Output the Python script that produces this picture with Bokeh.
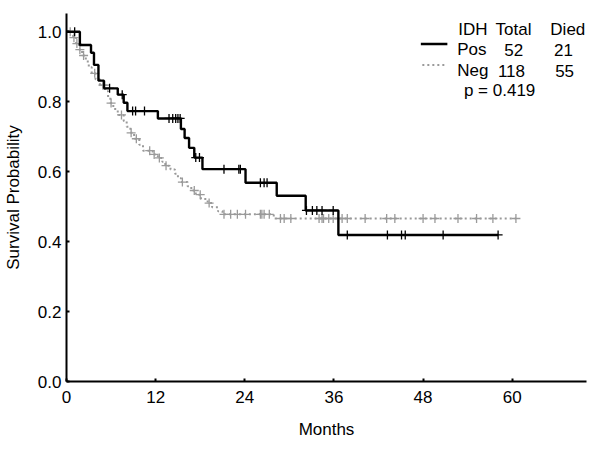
import numpy as np
from bokeh.plotting import figure
from bokeh.models import FixedTicker, NumeralTickFormatter
from bokeh.core.properties import value
from bokeh.embed import file_html
from bokeh.resources import INLINE

# ---- data ----
# IDH positive: event times (months) and survival after each step
pos_times = [1.8, 3.3, 3.7, 4.3, 5.05, 6.9, 7.7, 8.2, 12.3, 15.4, 15.9, 16.5, 17.2, 18.3, 24.1, 28.3, 32.2, 36.6]
pos_surv = [0.962, 0.940, 0.905, 0.860, 0.838, 0.820, 0.797, 0.773, 0.752, 0.722, 0.696, 0.668, 0.640, 0.607, 0.568, 0.531, 0.489, 0.419]
pos_censor = [1.1, 5.8, 7.5, 8.9, 9.3, 10.5, 13.8, 14.3, 14.7, 15.0, 15.3, 17.4, 17.9, 21.2, 23.2, 23.4,
              26.1, 26.6, 27.0, 32.3, 33.1, 33.7, 34.4, 35.9, 37.8, 43.2, 45.1, 45.6, 50.7, 58.1]
pos_end = 58.1

# IDH negative
neg_times = [0.9, 1.3, 1.7, 2.1, 2.6, 3.0, 3.4, 3.9, 4.5, 5.2, 5.6, 5.9, 6.3, 6.9, 7.7, 8.1, 8.6, 9.1, 9.8, 10.3,
             11.6, 12.3, 12.9, 13.3, 14.0, 14.6, 15.0, 15.4, 16.3, 16.8, 17.4, 18.1, 19.0, 19.6, 20.4, 21.0, 27.9]
neg_surv = [0.983, 0.966, 0.949, 0.932, 0.915, 0.898, 0.881, 0.864, 0.847, 0.830, 0.813, 0.796, 0.779, 0.762,
            0.745, 0.728, 0.711, 0.694, 0.677, 0.660, 0.649, 0.639, 0.628, 0.617, 0.606, 0.594, 0.582, 0.570,
            0.558, 0.546, 0.534, 0.522, 0.510, 0.498, 0.487, 0.478, 0.466]
neg_censor = [0.5, 1.0, 1.4, 1.8, 2.3, 3.8, 4.9, 5.1, 6.0, 7.4, 8.7, 9.4, 11.2, 11.8, 12.5, 13.4, 15.6, 17.2,
              18.0, 19.2, 21.2, 22.1, 23.0, 24.1, 26.1, 26.3, 26.6, 27.3, 28.8, 29.3, 30.2, 34.0, 34.4, 34.6,
              35.3, 35.9, 36.6, 37.1, 37.8, 40.2, 43.1, 44.2, 48.0, 49.6, 52.7, 55.2, 57.4, 60.5]
neg_end = 60.5

x_ticks = [0, 12, 24, 36, 48, 60]
y_ticks = [0.0, 0.2, 0.4, 0.6, 0.8, 1.0]

legend_header = ["IDH", "Total", "Died"]
groups = ["Pos", "Neg"]
totals = ["52", "118"]
died = ["21", "55"]
p_text = "p = 0.419"

FONT = "Liberation Sans"
BLACK = "#000000"
GREY = "#9a9a9a"


def step_xy(times, surv, end):
    xs = [0.0] + list(times) + [end]
    ys = [1.0] + list(surv) + [surv[-1]]
    return xs, ys


def censor_y(times, surv, ctimes):
    t = np.array(times)
    s = np.array([1.0] + list(surv))
    idx = np.searchsorted(t, np.array(ctimes), side="right")
    return list(s[idx])


p = figure(width=592, height=441, x_range=(0, 70), y_range=(0, 1.052),
           output_backend="svg", toolbar_location=None,
           min_border_left=64, min_border_right=6, min_border_top=13, min_border_bottom=58)
p.outline_line_color = None
p.grid.visible = False
p.background_fill_color = "white"

# curves
nx, ny = step_xy(neg_times, neg_surv, neg_end)
p.step(nx, ny, mode="after", line_color=GREY, line_width=2, line_dash="2 3")
p.scatter(neg_censor, censor_y(neg_times, neg_surv, neg_censor), marker="cross",
          size=9, line_color=GREY, line_width=1.3)

px_, py_ = step_xy(pos_times, pos_surv, pos_end)
p.step(px_, py_, mode="after", line_color=BLACK, line_width=2.4)
p.scatter(pos_censor, censor_y(pos_times, pos_surv, pos_censor), marker="cross",
          size=9, line_color=BLACK, line_width=1.3)

# legend table
fs = "17px"
hdr_x = [52.74, 57.76, 65.13]
p.text(x=hdr_x, y=[1.005] * 3, text=legend_header, text_font=value(FONT), text_font_size=fs,
       text_color="black", text_baseline="alphabetic", text_align="left")
row_y = [0.948, 0.889]
p.text(x=[52.6, 52.6], y=row_y, text=groups, text_font=value(FONT), text_font_size=fs,
       text_color="black", text_baseline="alphabetic", text_align="left")
p.text(x=[60.2, 59.9], y=row_y, text=totals, text_font=value(FONT), text_font_size=fs,
       text_color="black", text_baseline="alphabetic", text_align="center")
p.text(x=[66.9, 67.05], y=row_y, text=died, text_font=value(FONT), text_font_size=fs,
       text_color="black", text_baseline="alphabetic", text_align="center")
p.text(x=[53.5], y=[0.832], text=[p_text], text_font=value(FONT), text_font_size=fs,
       text_color="black", text_baseline="alphabetic", text_align="left")
p.segment(x0=[47.7], y0=[0.965], x1=[51.27], y1=[0.965], line_color=BLACK, line_width=2.4)
p.segment(x0=[47.9], y0=[0.905], x1=[51.2], y1=[0.905], line_color=GREY, line_width=2, line_dash="2 3")

# axes
for ax in (p.xaxis[0], p.yaxis[0]):
    ax.axis_line_color = "black"
    ax.axis_line_width = 2
    ax.major_tick_in = 3
    ax.major_tick_out = 0
    ax.major_tick_line_width = 2
    ax.minor_tick_line_color = None
    ax.major_label_text_font = FONT
    ax.major_label_text_font_size = "17px"
    ax.major_label_text_color = "black"
    ax.axis_label_text_font = FONT
    ax.axis_label_text_font_size = "17px"
    ax.axis_label_text_font_style = "normal"
    ax.axis_label_text_color = "black"

p.xaxis.ticker = FixedTicker(ticks=x_ticks)
p.yaxis.ticker = FixedTicker(ticks=y_ticks)
p.yaxis.formatter = NumeralTickFormatter(format="0.0")
p.xaxis.axis_label = "Months"
p.yaxis.axis_label = "Survival Probability"
p.xaxis.major_label_standoff = 9
p.yaxis.major_label_standoff = 5
p.xaxis.axis_label_standoff = 14
p.yaxis.axis_label_standoff = 12

open("out.html", "w").write(file_html(p, INLINE))
